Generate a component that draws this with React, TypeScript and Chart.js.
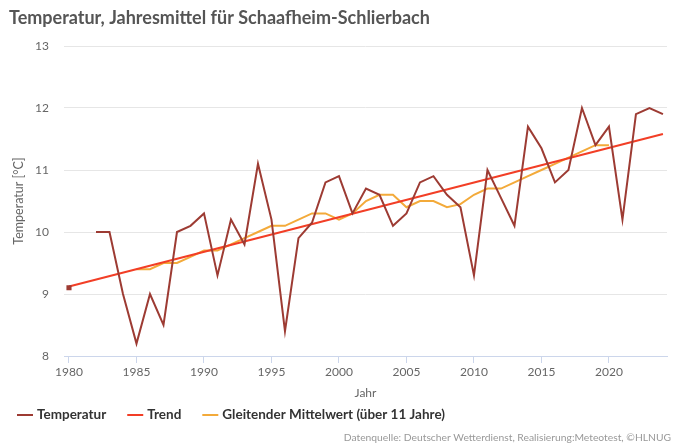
import React, { useEffect, useRef } from "react";
import { Chart, registerables } from "chart.js";

Chart.register(...registerables);

const chartTitle = "Temperatur, Jahresmittel für Schaafheim-Schlierbach";
const creditText = "Datenquelle: Deutscher Wetterdienst, Realisierung:Meteotest, ©HLNUG";
const yAxisTitle = "Temperatur [°C]";
const xAxisTitle = "Jahr";

const years = [
  1980, 1981, 1982, 1983, 1984, 1985, 1986, 1987, 1988, 1989,
  1990, 1991, 1992, 1993, 1994, 1995, 1996, 1997, 1998, 1999,
  2000, 2001, 2002, 2003, 2004, 2005, 2006, 2007, 2008, 2009,
  2010, 2011, 2012, 2013, 2014, 2015, 2016, 2017, 2018, 2019,
  2020, 2021, 2022, 2023, 2024,
];
const temperature = [
  9.1, null, 10.0, 10.0, 9.0, 8.2, 9.0, 8.5, 10.0, 10.1,
  10.3, 9.3, 10.2, 9.8, 11.1, 10.2, 8.4, 9.9, 10.15, 10.8,
  10.9, 10.3, 10.7, 10.6, 10.1, 10.3, 10.8, 10.9, 10.6, 10.4,
  9.3, 11.0, 10.55, 10.1, 11.7, 11.35, 10.8, 11.0, 12.0, 11.4,
  11.7, 10.2, 11.9, 12.0, 11.9,
];
const trendYears = [1980, 2024];
const trendValues = [9.12, 11.58];
const movingAvgYears = [
  1985, 1986, 1987, 1988, 1989, 1990, 1991, 1992, 1993, 1994,
  1995, 1996, 1997, 1998, 1999, 2000, 2001, 2002, 2003, 2004,
  2005, 2006, 2007, 2008, 2009, 2010, 2011, 2012, 2013, 2014,
  2015, 2016, 2017, 2018, 2019, 2020,
];
const movingAvg = [
  9.4, 9.4, 9.5, 9.5, 9.6, 9.7, 9.7, 9.8, 9.9, 10.0,
  10.1, 10.1, 10.2, 10.3, 10.3, 10.2, 10.3, 10.5, 10.6, 10.6,
  10.4, 10.5, 10.5, 10.4, 10.45, 10.6, 10.7, 10.7, 10.8, 10.9,
  11.0, 11.1, 11.2, 11.3, 11.4, 11.4,
];
const xTickValues = [1980, 1985, 1990, 1995, 2000, 2005, 2010, 2015, 2020];
const yTickValues = [8, 9, 10, 11, 12, 13];
const seriesLabels = ["Temperatur", "Trend", "Gleitender Mittelwert (über 11 Jahre)"];

const COLORS = { temp: "#9d3b33", trend: "#f23e26", avg: "#f3aa3a" };
const FONT = "Lato";

const textPlugin = {
  id: "textPlugin",
  afterDraw(chart: any) {
    const ctx = chart.ctx;
    ctx.save();
    ctx.textBaseline = "middle";
    ctx.textAlign = "left";
    ctx.font = `bold 18px ${FONT}`;
    ctx.fillStyle = "#555555";
    ctx.fillText(chartTitle, 9, 18);

    let x = 17;
    const y = 415;
    ctx.font = `bold 13.5px ${FONT}`;
    chart.data.datasets.forEach((ds: any) => {
      ctx.strokeStyle = ds.borderColor;
      ctx.lineWidth = 2;
      ctx.beginPath();
      ctx.moveTo(x, y);
      ctx.lineTo(x + 16, y);
      ctx.stroke();
      ctx.fillStyle = "#333333";
      ctx.fillText(ds.label, x + 20, y);
      x += 20 + ctx.measureText(ds.label).width + 21;
    });

    ctx.font = `10.3px ${FONT}`;
    ctx.fillStyle = "#999999";
    ctx.textAlign = "right";
    ctx.fillText(creditText, 671, 438);
    ctx.restore();
  },
};

export default function App() {
  const ref = useRef<HTMLCanvasElement | null>(null);
  useEffect(() => {
    document.body.style.margin = "0";
    if (!ref.current) return;
    const isolated = (c: any) => {
      const d = c.dataset.data;
      const i = c.dataIndex;
      const prev = i > 0 ? d[i - 1].y : null;
      const next = i < d.length - 1 ? d[i + 1].y : null;
      return d[i].y != null && prev == null && next == null ? 2.2 : 0;
    };
    const chart = new Chart(ref.current, {
      type: "line",
      data: {
        datasets: [
          {
            label: seriesLabels[0],
            data: years.map((yr, i) => ({ x: yr, y: temperature[i] })),
            borderColor: COLORS.temp,
            backgroundColor: COLORS.temp,
            borderWidth: 2,
            pointRadius: isolated,
            pointStyle: "rect",
            spanGaps: false,
            tension: 0,
          },
          {
            label: seriesLabels[1],
            data: trendYears.map((yr, i) => ({ x: yr, y: trendValues[i] })),
            borderColor: COLORS.trend,
            backgroundColor: COLORS.trend,
            borderWidth: 2,
            pointRadius: 0,
            tension: 0,
          },
          {
            label: seriesLabels[2],
            data: movingAvgYears.map((yr, i) => ({ x: yr, y: movingAvg[i] })),
            borderColor: COLORS.avg,
            backgroundColor: COLORS.avg,
            borderWidth: 2,
            pointRadius: 0,
            tension: 0,
          },
        ],
      },
      options: {
        animation: false,
        responsive: true,
        maintainAspectRatio: false,
        devicePixelRatio: 1,
        layout: { padding: { top: 46, left: 0, right: 0, bottom: 43 } },
        plugins: {
          legend: { display: false },
          title: { display: false },
          tooltip: { enabled: false },
        },
        scales: {
          x: {
            type: "linear",
            min: 1979.63,
            max: 2024.3,
            afterBuildTicks: (s: any) => {
              s.ticks = xTickValues.map((v) => ({ value: v }));
            },
            afterFit: (s: any) => {
              s.height = 45;
            },
            grid: {
              drawOnChartArea: false,
              drawTicks: true,
              tickLength: 7,
              color: "#ccd6eb",
            },
            border: { display: true, color: "#ccd6eb" },
            ticks: {
              padding: 2,
              color: "#666666",
              font: { family: FONT, size: 12 },
              maxRotation: 0,
              callback: (v: any) => String(v),
            },
            title: {
              display: true,
              text: xAxisTitle,
              color: "#666666",
              font: { family: FONT, size: 12 },
              padding: { top: 0, bottom: 1 },
            },
          },
          y: {
            type: "linear",
            min: 8,
            max: 13,
            afterBuildTicks: (s: any) => {
              s.ticks = yTickValues.map((v) => ({ value: v }));
            },
            afterFit: (s: any) => {
              s.width = 64;
            },
            grid: { color: "#e6e6e6", drawTicks: false },
            border: { display: false },
            ticks: {
              padding: 15,
              color: "#666666",
              font: { family: FONT, size: 12 },
            },
            title: {
              display: true,
              text: yAxisTitle,
              color: "#666666",
              font: { family: FONT, size: 12.5 },
              padding: { top: 11, bottom: 0 },
            },
          },
        },
      },
      plugins: [textPlugin],
    });
    return () => chart.destroy();
  }, []);
  return (
    <div style={{ position: "relative", width: 673, height: 444 }}>
      <canvas ref={ref} />
    </div>
  );
}
